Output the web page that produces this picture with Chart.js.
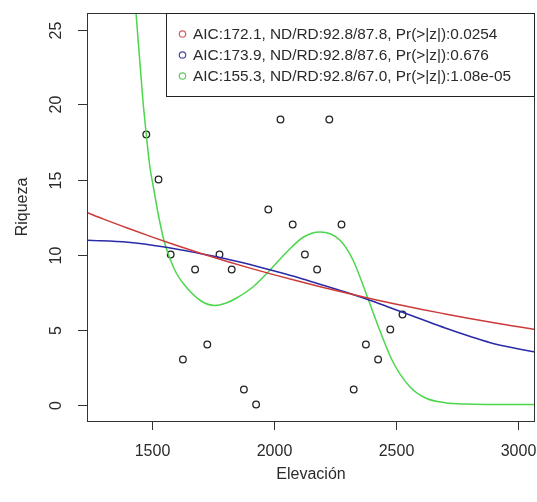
<!DOCTYPE html>
<html>
<head>
<meta charset="utf-8">
<script src="https://cdn.jsdelivr.net/npm/chart.js@4.4.1/dist/chart.umd.min.js"></script>
<style>
  html, body { margin: 0; padding: 0; background: #fff; }
  #wrap { width: 537px; height: 502px; }
</style>
</head>
<body>
<div id="wrap"><canvas id="chart" width="537" height="502"></canvas></div>
<script>
// observed points
const elevation = [1475, 1525, 1575, 1625, 1675, 1725, 1775, 1825, 1875, 1925, 1975,
                   2025, 2075, 2125, 2175, 2225, 2275, 2325, 2375, 2425, 2475, 2525];
const riqueza = [18, 15, 10, 3, 9, 4, 10, 9, 1, 0, 13,
                 19, 12, 10, 9, 19, 12, 1, 4, 3, 5, 6];

// fitted curves
const redX = [1232, 1300, 1400, 1500, 1600, 1700, 1800, 1900, 2000, 2100, 2200,
              2300, 2400, 2500, 2600, 2700, 2800, 2900, 3000, 3068];
const redY = [12.8, 12.36, 11.75, 11.16, 10.6, 10.07, 9.57, 9.09, 8.64, 8.21, 7.8,
              7.41, 7.04, 6.69, 6.35, 6.04, 5.74, 5.45, 5.18, 5.0];

const blueX = [1232, 1400, 1550, 1700, 1800, 1900, 2000, 2100, 2200, 2300, 2400,
               2500, 2600, 2700, 2800, 2900, 3068];
const blueY = [10.95, 10.82, 10.5, 10.05, 9.72, 9.33, 8.9, 8.45, 7.95, 7.45, 6.9,
               6.3, 5.7, 5.1, 4.55, 4.05, 3.5];

const greenX = [1415, 1433, 1461, 1475, 1490, 1503, 1525, 1548, 1575, 1600, 1640,
                1700, 1755, 1800, 1845, 1913, 1981, 2050, 2118, 2187, 2269, 2323,
                2378, 2433, 2487, 2556, 2624, 2700, 2788, 2900, 3068];
const greenY = [30, 26.1, 20.3, 18.0, 15.8, 14.6, 12.6, 10.9, 9.6, 8.7, 7.8,
                6.9, 6.6, 6.75, 7.1, 7.85, 8.95, 10.15, 11.15, 11.5, 10.95, 9.6,
                7.3, 4.9, 2.8, 1.17, 0.4, 0.12, 0.03, 0, 0];

const xTicks = [1500, 2000, 2500, 3000];
const yTicks = [0, 5, 10, 15, 20, 25];

const legendLabels = [
  'AIC:172.1, ND/RD:92.8/87.8, Pr(>|z|):0.0254',
  'AIC:173.9, ND/RD:92.8/87.6, Pr(>|z|):0.676',
  'AIC:155.3, ND/RD:92.8/67.0, Pr(>|z|):1.08e-05'
];
const legendColors = ['#d06060', '#4848a8', '#60c860'];

const FONT = '"Liberation Sans", Arial, sans-serif';
const INK = '#2a2a2a';

function pairs(xs, ys) {
  return xs.map((x, i) => ({ x: x, y: ys[i] }));
}

function curve(xs, ys, color) {
  return {
    type: 'line',
    data: pairs(xs, ys),
    borderColor: color,
    borderWidth: 1.5,
    pointRadius: 0,
    fill: false,
    cubicInterpolationMode: 'monotone'
  };
}

// R style frame, axes and legend
const rFrame = {
  id: 'rFrame',
  afterDraw(chart) {
    const ctx = chart.ctx;
    const a = chart.chartArea;
    const xs = chart.scales.x;
    const ys = chart.scales.y;
    ctx.save();
    ctx.strokeStyle = '#333';
    ctx.lineWidth = 1;
    ctx.strokeRect(a.left + 0.5, a.top + 0.5, a.right - a.left - 1, a.bottom - a.top);

    ctx.fillStyle = INK;
    ctx.font = '16px ' + FONT;
    ctx.textAlign = 'center';
    ctx.textBaseline = 'middle';

    xTicks.forEach(v => {
      const px = Math.round(xs.getPixelForValue(v)) + 0.5;
      ctx.beginPath();
      ctx.moveTo(px, a.bottom);
      ctx.lineTo(px, a.bottom + 9);
      ctx.stroke();
      ctx.fillText(String(v), px, 452);
    });

    yTicks.forEach(v => {
      const py = Math.round(ys.getPixelForValue(v)) + 0.5;
      ctx.beginPath();
      ctx.moveTo(a.left - 9, py);
      ctx.lineTo(a.left, py);
      ctx.stroke();
      ctx.save();
      ctx.translate(57, py);
      ctx.rotate(-Math.PI / 2);
      ctx.fillText(String(v), 0, 0);
      ctx.restore();
    });

    ctx.fillText('Elevación', (a.left + a.right) / 2, 475);
    ctx.save();
    ctx.translate(23, 207);
    ctx.rotate(-Math.PI / 2);
    ctx.fillText('Riqueza', 0, 0);
    ctx.restore();

    // legend box
    const bx = 166, by = a.top, bw = a.right - bx, bh = 96 - a.top;
    ctx.fillStyle = '#fff';
    ctx.fillRect(bx, by, bw, bh);
    ctx.strokeStyle = '#222';
    ctx.strokeRect(bx + 0.5, by + 0.5, bw - 1, bh);
    ctx.font = '15.4px ' + FONT;
    ctx.textAlign = 'left';
    legendLabels.forEach((t, i) => {
      const ry = 34 + i * 21;
      ctx.strokeStyle = legendColors[i];
      ctx.lineWidth = 1.2;
      ctx.beginPath();
      ctx.arc(182.5, ry, 3.2, 0, Math.PI * 2);
      ctx.stroke();
      ctx.fillStyle = INK;
      ctx.fillText(t, 193, ry + 1);
    });
    ctx.restore();
  }
};

new Chart(document.getElementById('chart'), {
  type: 'scatter',
  data: {
    datasets: [
      curve(redX, redY, '#cc3a3a'),
      curve(blueX, blueY, '#2a2aa8'),
      curve(greenX, greenY, '#4cd64c'),
      {
        type: 'scatter',
        data: pairs(elevation, riqueza),
        pointStyle: 'circle',
        pointRadius: 3.3,
        pointBorderWidth: 1.3,
        pointBorderColor: '#222',
        pointBackgroundColor: 'rgba(0,0,0,0)'
      }
    ]
  },
  options: {
    responsive: false,
    animation: false,
    layout: { autoPadding: false, padding: { left: 87, top: 13, right: 2, bottom: 81 } },
    plugins: { legend: { display: false }, tooltip: { enabled: false } },
    scales: {
      x: { type: 'linear', min: 1232, max: 3068, display: false },
      y: { type: 'linear', min: -1.1, max: 26.1, display: false }
    }
  },
  plugins: [rFrame]
});
</script>
</body>
</html>
